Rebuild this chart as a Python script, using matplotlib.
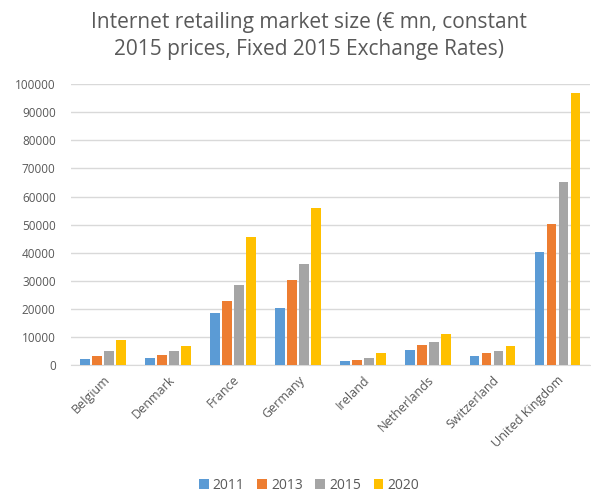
import numpy as np
import matplotlib.pyplot as plt

countries = ['Belgium', 'Denmark', 'France', 'Germany', 'Ireland',
             'Netherlands', 'Switzerland', 'United Kingdom']
years = ['2011', '2013', '2015', '2020']
v2011 = [2000, 2500, 18700, 20400, 1300, 5500, 3200, 40300]
v2013 = [3200, 3700, 22900, 30100, 1900, 7100, 4300, 50300]
v2015 = [4900, 4900, 28600, 36000, 2500, 8100, 4900, 65000]
v2020 = [8800, 6600, 45500, 55900, 4300, 11000, 6600, 96700]
colors = ['#5b9bd5', '#ed7d31', '#a5a5a5', '#ffc000']

plt.rcParams['font.family'] = ['Open Sans', 'DejaVu Sans']
txt = '#595959'

fig = plt.figure(figsize=(5.91, 4.98), dpi=100)
ax = fig.add_axes([0.12, 0.267, 0.878, 0.564])

x = np.arange(len(countries))
series = [v2011, v2013, v2015, v2020]
for i, vals in enumerate(series):
    ax.bar(x + (i - 1.5) * 0.185, vals, width=0.15, color=colors[i], label=years[i], zorder=3)

ax.set_ylim(0, 100000)
ax.set_xlim(-0.5, len(countries) - 0.5)
ax.set_yticks(range(0, 100001, 10000))
ax.yaxis.grid(True, color='#d9d9d9', lw=1, zorder=0)
for s in ['top', 'right', 'left']:
    ax.spines[s].set_visible(False)
ax.spines['bottom'].set_color('#d9d9d9')
ax.tick_params(axis='both', length=0, colors=txt)
ax.tick_params(axis='y', pad=11, labelsize=8.5)

ax.set_xticks(x)
ax.set_xticklabels(countries, rotation=45, ha='right', rotation_mode='anchor', fontsize=9)
ax.tick_params(axis='x', pad=6)

fig.text(0.523, 0.955, 'Internet retailing market size (€ mn, constant', ha='center', va='center',
         fontsize=15, color=txt)
fig.text(0.523, 0.9, '2015 prices, Fixed 2015 Exchange Rates)', ha='center', va='center',
         fontsize=15, color=txt)

fig.legend(loc='center', bbox_to_anchor=(0.523, 0.025), ncol=4, frameon=False,
           handlelength=0.7, handleheight=0.7, handletextpad=0.3, columnspacing=0.9,
           fontsize=10, labelcolor=txt)

fig.savefig('out.png', dpi=100)
